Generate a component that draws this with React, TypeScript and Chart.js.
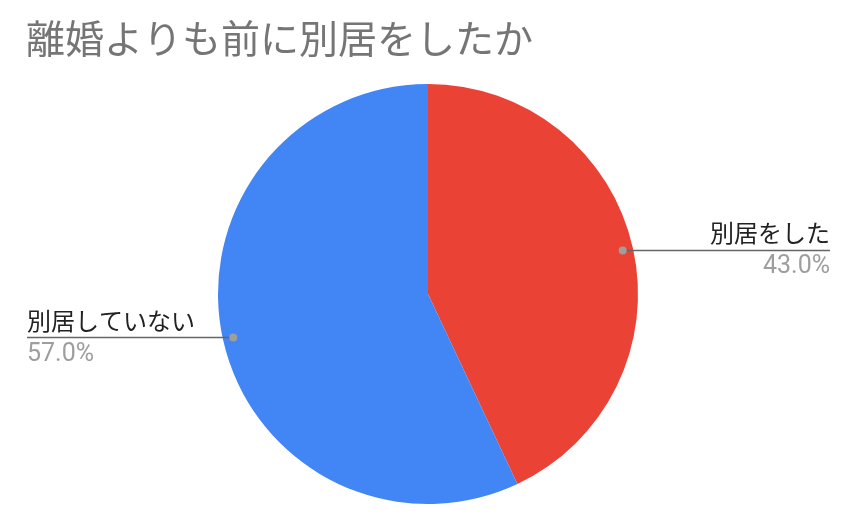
import { useRef, useEffect } from 'react';
import { Chart, registerables, ArcElement } from 'chart.js';

Chart.register(...registerables);

const title = '離婚よりも前に別居をしたか';
const labels = ['別居をした', '別居していない'];
const values = [43.0, 57.0];
const colors = ['#ea4335', '#4285f4'];

const FONT = "Roboto, 'Noto Sans CJK JP', 'Noto Sans', sans-serif";

// draws the title and the leader-line labels
const calloutPlugin = {
  id: 'callouts',
  afterDraw(chart: Chart) {
    const { ctx } = chart;
    const total = values.reduce((a, b) => a + b, 0);
    ctx.save();
    ctx.fillStyle = '#757575';
    ctx.font = `39px ${FONT}`;
    ctx.textAlign = 'left';
    ctx.textBaseline = 'middle';
    ctx.fillText(title, 26, 43);

    const meta = chart.getDatasetMeta(0);
    meta.data.forEach((el, i) => {
      const arc = el as ArcElement;
      const { x, y, startAngle, endAngle, outerRadius } = arc.getProps(
        ['x', 'y', 'startAngle', 'endAngle', 'outerRadius'],
        true
      ) as any;
      const mid = (startAngle + endAngle) / 2;
      const r = outerRadius * 0.95;
      const px = x + Math.cos(mid) * r;
      const py = y + Math.sin(mid) * r;
      const right = Math.cos(mid) >= 0;
      const edge = right ? 830 : 27;

      ctx.strokeStyle = '#666666';
      ctx.lineWidth = 1.5;
      ctx.beginPath();
      ctx.moveTo(px, py);
      ctx.lineTo(edge, py);
      ctx.stroke();

      ctx.fillStyle = '#9e9e9e';
      ctx.beginPath();
      ctx.arc(px, py, 4, 0, Math.PI * 2);
      ctx.fill();

      ctx.textAlign = right ? 'right' : 'left';
      ctx.textBaseline = 'alphabetic';
      ctx.font = `24px ${FONT}`;
      ctx.fillStyle = '#222222';
      ctx.fillText(labels[i], edge, py - 8);
      ctx.font = `25px ${FONT}`;
      ctx.fillStyle = '#9e9e9e';
      ctx.fillText(((values[i] / total) * 100).toFixed(1) + '%', edge, py + 23);
    });
    ctx.restore();
  },
};

const PieChart = () => {
  const chartRef = useRef<HTMLCanvasElement | null>(null);
  const chartInstance = useRef<Chart | null>(null);

  useEffect(() => {
    if (!chartRef.current) return;
    if (chartInstance.current) chartInstance.current.destroy();

    chartInstance.current = new Chart(chartRef.current, {
      type: 'pie',
      data: {
        labels,
        datasets: [
          {
            data: values,
            backgroundColor: colors,
            borderWidth: 0,
          },
        ],
      },
      options: {
        animation: false,
        responsive: true,
        maintainAspectRatio: false,
        layout: { padding: { top: 84, bottom: 26, left: 218, right: 218 } },
        plugins: {
          legend: { display: false },
          tooltip: { enabled: false },
          title: { display: false },
        },
      },
      plugins: [calloutPlugin],
    });

    return () => {
      if (chartInstance.current) {
        chartInstance.current.destroy();
        chartInstance.current = null;
      }
    };
  }, []);

  return <canvas ref={chartRef}></canvas>;
};

export default function App() {
  return (
    <div
      style={{
        position: 'fixed',
        left: 0,
        top: 0,
        width: 856,
        height: 530,
        background: '#ffffff',
      }}
    >
      <PieChart />
    </div>
  );
}
